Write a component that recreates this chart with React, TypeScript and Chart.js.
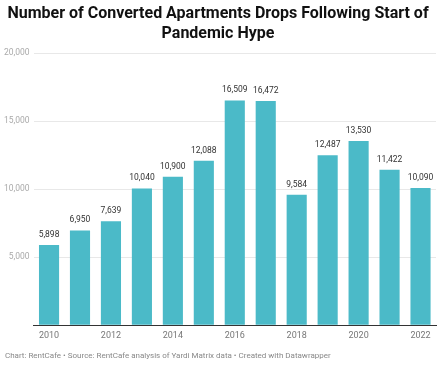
import React, { useEffect, useRef } from "react";
import { Chart, registerables } from "chart.js";

Chart.register(...registerables);

const years = ["2010","2011","2012","2013","2014","2015","2016","2017","2018","2019","2020","2021","2022"];
const conversions = [5898, 6950, 7639, 10040, 10900, 12088, 16509, 16472, 9584, 12487, 13530, 11422, 10090];
const yTicks = [0, 5000, 10000, 15000, 20000];
const titleLines = ["Number of Converted Apartments Drops Following Start of", "Pandemic Hype"];
const footerText = "Chart: RentCafe • Source: RentCafe analysis of Yardi Matrix data • Created with Datawrapper";

const FONT = "Roboto, 'Noto Sans', sans-serif";

const valueLabels = {
  id: "valueLabels",
  afterDatasetsDraw(chart: any) {
    const ctx = chart.ctx;
    const meta = chart.getDatasetMeta(0);
    ctx.save();
    ctx.font = `8.5px ${FONT}`;
    ctx.fillStyle = "#333333";
    ctx.textAlign = "center";
    ctx.textBaseline = "bottom";
    meta.data.forEach((bar: any, i: number) => {
      const v = chart.data.datasets[0].data[i] as number;
      ctx.fillText(v.toLocaleString("en-US"), bar.x, bar.y - 6);
    });
    ctx.restore();
  },
};

const footer = {
  id: "footer",
  afterDraw(chart: any) {
    const ctx = chart.ctx;
    ctx.save();
    ctx.font = `8px ${FONT}`;
    ctx.fillStyle = "#888888";
    ctx.textAlign = "left";
    ctx.textBaseline = "middle";
    ctx.fillText(footerText, 5, 356);
    ctx.restore();
  },
};

export default function App() {
  const ref = useRef<HTMLCanvasElement | null>(null);
  useEffect(() => {
    document.body.style.margin = "0";
    const chart = new Chart(ref.current!, {
      type: "bar",
      data: {
        labels: years,
        datasets: [
          {
            data: conversions,
            backgroundColor: "#4bbac8",
            categoryPercentage: 1,
            barPercentage: 0.65,
          },
        ],
      },
      options: {
        animation: false,
        responsive: false,
        maintainAspectRatio: false,
        layout: { padding: { left: 0, right: 3, top: 0, bottom: 21 } },
        plugins: {
          legend: { display: false },
          tooltip: { enabled: false },
          title: {
            display: true,
            text: titleLines,
            font: { family: FONT, size: 16, weight: "bold", lineHeight: 1.25 },
            color: "#111111",
            padding: { top: 4, bottom: 9 },
          },
        },
        scales: {
          x: {
            grid: { display: false, drawTicks: false, tickLength: 0 },
            border: { display: true, color: "#333333", width: 1 },
            ticks: {
              autoSkip: false,
              maxRotation: 0,
              color: "#777777",
              font: { family: FONT, size: 9 },
              padding: 5,
              callback: (_v: any, i: number) => (i % 2 === 0 ? years[i] : ""),
            },
          },
          y: {
            min: 0,
            max: 20000,
            afterBuildTicks: (axis: any) => {
              axis.ticks = yTicks.map((v) => ({ value: v }));
            },
            grid: { color: "#e8e8e8", drawTicks: false },
            border: { display: false },
            ticks: {
              color: "#aaaaaa",
              font: { family: FONT, size: 8.5 },
              padding: 4,
              callback: (v: any) => (v === 0 ? "" : Number(v).toLocaleString("en-US")),
            },
          },
        },
      },
      plugins: [valueLabels, footer],
    });
    return () => chart.destroy();
  }, []);
  return (
    <div style={{ position: "fixed", left: 0, top: 0, width: 439, height: 367, background: "#fff" }}>
      <canvas ref={ref} width={439} height={367} style={{ width: 439, height: 367 }} />
    </div>
  );
}
